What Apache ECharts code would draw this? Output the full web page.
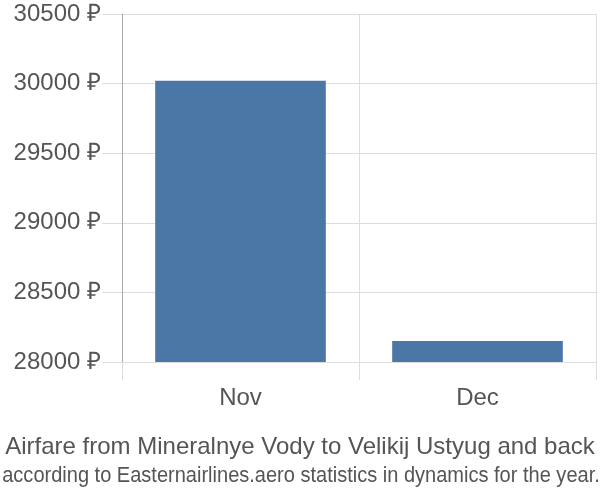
<!DOCTYPE html>
<html>
<head>
<meta charset="utf-8">
<script src="https://cdn.jsdelivr.net/npm/echarts@6/dist/echarts.min.js"></script>
<style>html,body{margin:0;padding:0;background:#fff}#c{width:600px;height:500px}</style>
</head>
<body>
<div id="c"></div>
<script>
var categories = ["Nov", "Dec"];
var prices = [30020, 28150];
var yMin = 28000, yMax = 30500, yStep = 500;
var titleText = "Airfare from Mineralnye Vody to Velikij Ustyug and back";
var subText = "according to Easternairlines.aero statistics in dynamics for the year.";

var FONT = 'Liberation Sans, Arial, sans-serif';
var chart = echarts.init(document.getElementById('c'), null, {renderer: 'canvas'});
chart.setOption({
  animation: false,
  graphic: [
    {type: 'text', x: 300, y: 447,
     style: {text: titleText, font: '24px ' + FONT, fill: '#555', align: 'center', verticalAlign: 'middle'}},
    {type: 'text', x: 301, y: 476, scaleX: 0.91,
     style: {text: subText, font: '22px ' + FONT, fill: '#555', align: 'center', verticalAlign: 'middle'}}
  ],
  grid: {left: 122, right: 4, top: 14, bottom: 138, containLabel: false},
  xAxis: {
    type: 'category', data: categories,
    axisLine: {show: false},
    axisTick: {show: true, length: 18, interval: 0, lineStyle: {color: '#ddd'}},
    splitLine: {show: true, interval: 0, lineStyle: {color: '#ddd'}},
    axisLabel: {margin: 24, fontSize: 24, color: '#555', fontFamily: FONT}
  },
  yAxis: {
    type: 'value', min: yMin, max: yMax, interval: yStep,
    axisLine: {show: true, lineStyle: {color: '#aaa'}},
    axisTick: {show: true, length: 20, lineStyle: {color: '#ddd'}},
    splitLine: {show: true, lineStyle: {color: '#ddd'}},
    axisLabel: {margin: 21, fontSize: 24, color: '#555', fontFamily: FONT,
      formatter: function (v) { return v + ' ₽'; }}
  },
  series: [{
    type: 'bar', data: prices, barWidth: '72%',
    itemStyle: {color: '#4b77a6'}
  }]
});
</script>
</body>
</html>
